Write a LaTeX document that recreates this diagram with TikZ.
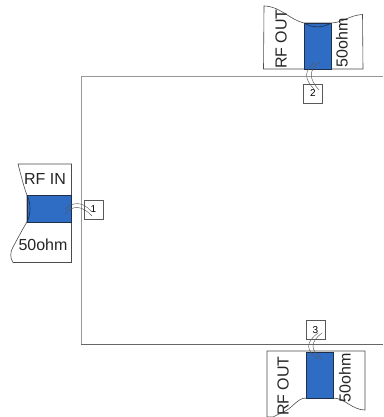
\documentclass[tikz,border=0pt]{standalone}
\usepackage{fontspec}
\setmainfont{Liberation Sans}
\definecolor{rfblue}{HTML}{2F6CC4}
\definecolor{rfedge}{HTML}{1F2F4A}
\tikzset{
  x=1pt,y=-1pt,
  boardline/.style={draw=black!40,line width=0.8pt},
  papersheet/.style={draw=black!70,line width=0.6pt,fill=white},
  bluepad/.style={draw=rfedge,line width=0.9pt,fill=rfblue},
  wireline/.style={draw=black!65,line width=0.45pt},
  portbox/.style={draw=black!65,line width=0.5pt,fill=white,minimum width=19pt,minimum height=19pt,inner sep=0pt,font=\fontsize{10}{11}\selectfont},
  rflabel/.style={inner sep=0pt,font=\fontsize{16}{18}\selectfont,text=black!85}
}
\begin{document}
\begin{tikzpicture}
\useasboundingbox[fill=white] (0,0) rectangle (383,417);
% board
\draw[boardline] (383,76) -- (81,76) -- (81,344);
\draw[boardline,draw=black!60] (81,344) -- (383,344);
% left connector
\draw[papersheet] (18,164) -- (71.5,164) -- (71.5,262.5) -- (13,262.5)
  .. controls (10,258) and (10,252) .. (13,247) .. controls (18,238) and (22,230) .. (27,222)
  -- (27,195) .. controls (24,188) and (21,175) .. (18,164) -- cycle;
\draw[bluepad] (27,195) rectangle (71,222);
\draw[rfedge,line width=0.6pt] (27,195) .. controls (31,203) and (31,214) .. (27,222);
\node[rflabel] (rfin) at (45,179) {RF IN};
\node[rflabel] (ohmin) at (43,245) {50ohm};
\node[portbox] (p1) at (93.5,209.5) {1};
\coordinate (a1) at (65,214);
\coordinate (a1e) at (92,216);
\coordinate (a2) at (66,209);
\coordinate (a2e) at (91,211);
\draw[wireline] (a1) .. controls (72,205) and (82,205) .. (a1e);
\draw[wireline] (a2) .. controls (72,202) and (82,201) .. (a2e);
% top connector
\draw[papersheet] (264,6) .. controls (280,6) and (290,20) .. (304,23)
  -- (331,23) .. controls (342,23) and (350,15) .. (362.5,14.5)
  -- (363,69) -- (263.5,69) -- cycle;
\draw[bluepad] (304,23.5) rectangle (331,69);
\draw[rfedge,line width=0.6pt] (305,23.5) .. controls (312,28) and (323,28) .. (330,23.5);
\node[rflabel,rotate=90] (rfout1) at (281,39) {RF OUT};
\node[rflabel,rotate=90] (ohm1) at (342,43) {50ohm};
\node[portbox] (p2) at (313,93.5) {2};
\coordinate (b1) at (320,62);
\coordinate (b1e) at (319,90);
\coordinate (b2) at (315,62);
\coordinate (b2e) at (314,89);
\draw[wireline] (b1) .. controls (308,70) and (309,79) .. (b1e);
\draw[wireline] (b2) .. controls (304,70) and (304,79) .. (b2e);
% bottom connector
\draw[papersheet] (267,351) -- (365,351) -- (365,410)
  .. controls (352,410) and (345,398) .. (333,398) -- (306,398)
  .. controls (297,398) and (292,409) .. (283,412) -- (273,417) -- (267,417) -- cycle;
\draw[bluepad] (306,352) rectangle (333,398);
\node[rflabel,rotate=90] (rfout2) at (283,386) {RF OUT};
\node[rflabel,rotate=90] (ohm2) at (345,378) {50ohm};
\node[portbox] (p3) at (315.5,330) {3};
\coordinate (c1) at (322,359);
\coordinate (c1e) at (322,333);
\coordinate (c2) at (318,359);
\coordinate (c2e) at (318,333);
\draw[wireline] (c1) .. controls (310,350) and (310,342) .. (c1e);
\draw[wireline] (c2) .. controls (305,350) and (306,342) .. (c2e);
\end{tikzpicture}
\end{document}
